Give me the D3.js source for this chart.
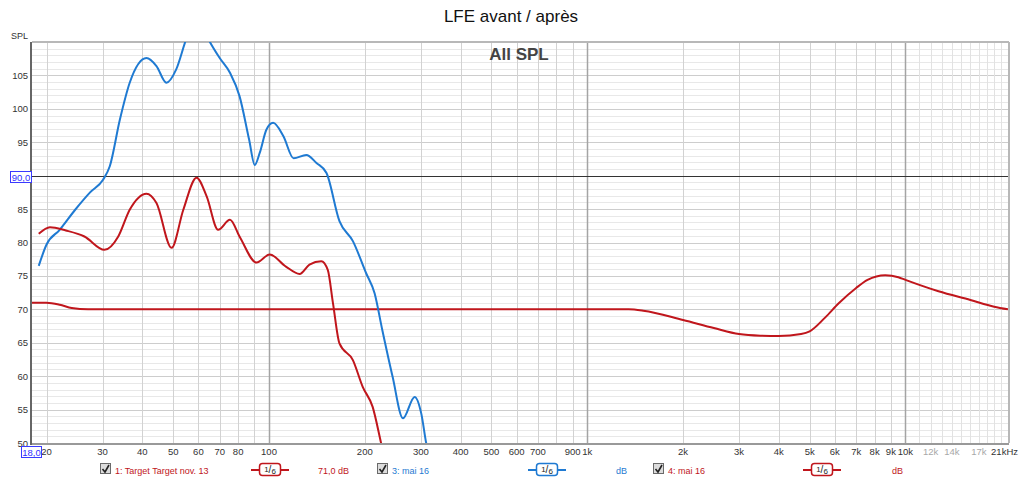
<!DOCTYPE html>
<html>
  <head>
    <meta charset="utf-8">
    <script src="https://d3js.org/d3.v7.min.js"></script>
    <style>
      body { margin: 0; background: #fff; }
      text { font-family: "Liberation Sans", Arial, sans-serif; }
      .tick-label { font-size: 9.5px; fill: #333; }
      .legend { font-size: 9px; }
    </style>
  </head>
  <body>
    <div id="chart"></div>
    <script>
      // data (Hz, dB)
      var targetFreq = [18, 20, 22, 24, 27, 1350, 1500, 2000, 2500, 3000, 3500, 4000, 4700, 5000, 5600, 6170, 7000, 7600, 8640, 9500, 10000, 12700, 16000, 19000, 21000];
      var targetDb   = [71, 71, 70.7, 70.2, 70, 70, 69.8, 68.4, 67.2, 66.3, 66.05, 66, 66.3, 66.7, 68.8, 70.9, 73.2, 74.4, 75.1, 74.8, 74.4, 72.7, 71.4, 70.4, 70];

      var mai16aFreq = [18.9, 20, 22, 24.6, 27.4, 30.1, 31.6, 34, 36.5, 41.2, 44.3, 47.6, 51.1, 55, 58, 62, 65.2, 70, 75.4, 80.8, 86.6, 90.2, 93.5, 98.2, 103, 111, 119.5, 131, 141, 151.6, 166.5, 183.5, 202, 214.7, 227, 244.6, 263.6, 286.8, 301, 311.8, 330];
      var mai16aDb   = [76.5, 79.7, 81.9, 84.9, 87.5, 89.4, 91.4, 98.4, 103.9, 107.6, 106.4, 103.9, 105.9, 110.5, 113, 112, 110, 107.6, 105.4, 101.9, 95.4, 91.6, 93.4, 96.9, 97.9, 95.9, 92.6, 93.1, 91.9, 90.4, 83.2, 80.2, 75.4, 72.4, 66.9, 59.9, 53.7, 56.9, 54.4, 50, 45];

      var mai16bFreq = [18.9, 20.5, 23, 26.3, 30.4, 33.6, 36.5, 41.2, 44.3, 49.4, 53.8, 59.2, 63.7, 69.2, 75.4, 80.8, 91.4, 100.5, 113, 124.8, 134, 146, 153, 158.9, 166.5, 183.5, 197, 211.7, 225, 235];
      var mai16bDb   = [81.3, 82.3, 81.8, 80.9, 78.9, 80.9, 84.9, 87.3, 85.9, 79.2, 84.9, 89.7, 86.9, 81.9, 83.4, 80.9, 77, 78.2, 76.4, 75.3, 76.7, 77.2, 75.9, 70.9, 64.9, 62.4, 58.4, 55.4, 50, 46];

      var yTicks = [50, 55, 60, 65, 70, 75, 80, 85, 95, 100, 105];
      var xTickValues = [20, 30, 40, 50, 60, 70, 80, 100, 200, 300, 400, 500, 600, 700, 900, 1000, 2000, 3000, 4000, 5000, 6000, 7000, 8000, 9000, 10000, 12000, 14000, 17000];
      var xTickLabels = ["20", "30", "40", "50", "60", "70", "80", "100", "200", "300", "400", "500", "600", "700", "900", "1k", "2k", "3k", "4k", "5k", "6k", "7k", "8k", "9k", "10k", "12k", "14k", "17k"];

      var seriesNames  = ["1: Target Target nov. 13", "3: mai 16", "4: mai 16"];
      var seriesValues = ["71,0 dB", "dB", "dB"];
      var seriesColors = ["#c0161c", "#1f7ad2", "#c0161c"];

      function drawChart() {
        var width = 1024, height = 484;
        var pLeft = 32, pRight = 1008, pTop = 42, pBottom = 443;

        var svg = d3.select('#chart').append('svg')
            .attr('width', width)
            .attr('height', height);

        var x = d3.scaleLog().domain([18, 21000]).range([pLeft, pRight]);
        var y = d3.scaleLinear().domain([50, 110]).range([pBottom, pTop]);

        // horizontal grid: 1 dB light, 5 dB darker
        var g = svg.append('g');
        d3.range(51, 110).forEach(function(v) {
          g.append('line')
            .attr('x1', pLeft).attr('x2', pRight)
            .attr('y1', Math.round(y(v)) + 0.5).attr('y2', Math.round(y(v)) + 0.5)
            .attr('stroke', v % 5 == 0 ? '#cdcdcd' : '#e8e8e8')
            .attr('stroke-width', 1);
        });

        // vertical grid
        var minor = [];
        [10, 100, 1000, 10000].forEach(function(d) {
          for (var m = 1; m < 10; m++) {
            var f = m * d;
            if (f >= 20 && f <= 20000) minor.push(f);
          }
        });
        for (var k = 11; k < 20; k++) minor.push(k * 1000);
        minor.forEach(function(f) {
          var decade = (f == 100 || f == 1000 || f == 10000);
          g.append('line')
            .attr('x1', Math.round(x(f)) + 0.5).attr('x2', Math.round(x(f)) + 0.5)
            .attr('y1', pTop).attr('y2', pBottom)
            .attr('stroke', decade ? '#a4a4a4' : (f > 10000 ? '#e2e2e2' : '#d2d2d2'))
            .attr('stroke-width', decade ? 1.5 : 1);
        });

        // reference line at 90
        g.append('line')
          .attr('x1', pLeft).attr('x2', pRight)
          .attr('y1', Math.round(y(90)) + 0.5).attr('y2', Math.round(y(90)) + 0.5)
          .attr('stroke', '#333').attr('stroke-width', 1);

        // frame
        svg.append('line').attr('x1', pLeft).attr('x2', pRight + 1).attr('y1', pTop).attr('y2', pTop)
          .attr('stroke', '#b8b8b8').attr('stroke-width', 2);
        svg.append('line').attr('x1', pRight + 1).attr('x2', pRight + 1).attr('y1', pTop).attr('y2', pBottom)
          .attr('stroke', '#b8b8b8').attr('stroke-width', 2);
        svg.append('line').attr('x1', pLeft - 1).attr('x2', pLeft - 1).attr('y1', pTop).attr('y2', pBottom + 2)
          .attr('stroke', '#666').attr('stroke-width', 2);
        svg.append('line').attr('x1', pLeft).attr('x2', pRight + 1).attr('y1', pBottom + 1).attr('y2', pBottom + 1)
          .attr('stroke', '#999').attr('stroke-width', 2);

        // curves
        svg.append('clipPath').attr('id', 'plotclip')
          .append('rect').attr('x', pLeft).attr('y', pTop).attr('width', pRight - pLeft).attr('height', pBottom - pTop);

        var line = d3.line()
            .x(function(d) { return x(d[0]); })
            .y(function(d) { return y(d[1]); })
            .curve(d3.curveMonotoneX);

        var curves = [
          { f: targetFreq, v: targetDb, c: seriesColors[0] },
          { f: mai16aFreq, v: mai16aDb, c: seriesColors[1] },
          { f: mai16bFreq, v: mai16bDb, c: seriesColors[2] }
        ];
        curves.forEach(function(s) {
          svg.append('path')
            .datum(d3.zip(s.f, s.v))
            .attr('clip-path', 'url(#plotclip)')
            .attr('fill', 'none')
            .attr('stroke', s.c)
            .attr('stroke-width', 2)
            .attr('d', line);
        });

        // titles
        svg.append('text').attr('x', 511).attr('y', 22).attr('text-anchor', 'middle')
          .style('font-size', '17px').attr('fill', '#111').text('LFE avant / après');
        svg.append('text').attr('x', 519).attr('y', 60).attr('text-anchor', 'middle')
          .style('font-size', '17px').style('font-weight', 'bold').attr('fill', '#444').text('All SPL');

        // y axis labels
        svg.append('text').attr('x', 28).attr('y', 39).attr('text-anchor', 'end')
          .style('font-size', '9px').attr('fill', '#333').text('SPL');
        yTicks.forEach(function(v) {
          svg.append('text').attr('class', 'tick-label')
            .attr('x', 28).attr('y', y(v) + 3.5).attr('text-anchor', 'end').text(v);
        });

        // x axis labels
        xTickValues.forEach(function(f, i) {
          svg.append('text').attr('class', 'tick-label')
            .attr('x', x(f)).attr('y', 455).attr('text-anchor', 'middle')
            .style('fill', (f == 12000 || f == 14000 || f == 17000) ? '#a8a8a8' : '#333')
            .text(xTickLabels[i]);
        });
        svg.append('text').attr('class', 'tick-label')
          .attr('x', x(21000) + 10).attr('y', 455).attr('text-anchor', 'end').text('21kHz');

        // blue value boxes
        function valueBox(bx, by, w, label) {
          svg.append('rect').attr('x', bx + 0.5).attr('y', by + 0.5).attr('width', w).attr('height', 11)
            .attr('fill', '#fff').attr('stroke', '#3a3aff');
          svg.append('text').attr('x', bx + w / 2 + 0.5).attr('y', by + 9.5).attr('text-anchor', 'middle')
            .style('font-size', '9.5px').attr('fill', '#2f2fff').text(label);
        }
        valueBox(10, Math.round(y(90)) - 5, 21, '90,0');
        valueBox(21, 446, 20, '18,0');

        // legend
        var legendX = [100, 377, 653];
        var smoothX = [270, 547, 822];
        var valueX  = [318, 616, 892];
        var legendY = 474;

        seriesNames.forEach(function(name, i) {
          var lg = svg.append('g').attr('class', 'legend');
          // check box
          lg.append('rect').attr('x', legendX[i] + 0.5).attr('y', legendY - 10.5).attr('width', 10).attr('height', 10)
            .attr('fill', '#dcdcdc').attr('stroke', '#6a6a6a');
          lg.append('path')
            .attr('d', 'M' + (legendX[i] + 2.5) + ',' + (legendY - 5) + ' l2.5,3 l4,-7')
            .attr('fill', 'none').attr('stroke', '#222').attr('stroke-width', 1.6);
          lg.append('text').attr('x', legendX[i] + 15).attr('y', legendY).attr('fill', seriesColors[i]).text(name);

          // smoothing marker
          lg.append('line').attr('x1', smoothX[i] - 19).attr('x2', smoothX[i] + 19)
            .attr('y1', legendY - 4).attr('y2', legendY - 4)
            .attr('stroke', seriesColors[i]).attr('stroke-width', 2);
          lg.append('rect').attr('x', smoothX[i] - 10.5).attr('y', legendY - 10.5).attr('width', 21).attr('height', 12)
            .attr('rx', 3).attr('fill', '#fff').attr('stroke', seriesColors[i]).attr('stroke-width', 1.5);
          var t = lg.append('text').attr('x', smoothX[i]).attr('y', legendY - 0.5).attr('text-anchor', 'middle')
            .style('font-size', '10px').attr('fill', '#222');
          t.append('tspan').attr('dy', -2).style('font-size', '8px').text('1');
          t.append('tspan').attr('dy', 1).text('/');
          t.append('tspan').attr('dy', 1).style('font-size', '8px').text('6');

          lg.append('text').attr('x', valueX[i]).attr('y', legendY).attr('fill', seriesColors[i]).text(seriesValues[i]);
        });
      }

      drawChart();
    </script>
  </body>
</html>
